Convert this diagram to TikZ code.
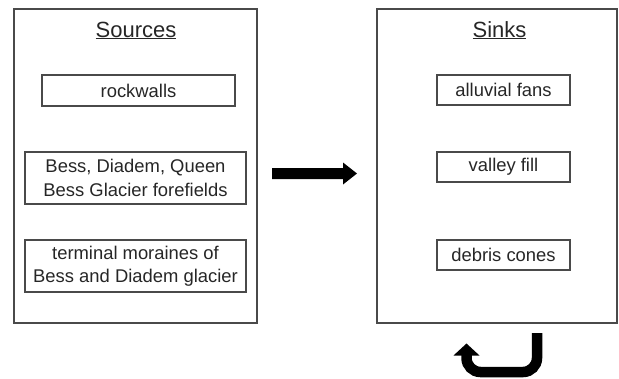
\documentclass[tikz,border=0pt]{standalone}
\usepackage{fontspec}
\setmainfont{Liberation Sans}
\definecolor{boxgray}{HTML}{4A4A4A}
\begin{document}
\begin{tikzpicture}[x=1pt,y=-1pt,
  outerbox/.style={draw=boxgray, line width=1.6pt, fill=none},
  itembox/.style={draw=boxgray, line width=1.3pt, inner sep=0pt, align=center,
    font=\fontsize{18.4}{23.5}\selectfont, text=black!85},
  titletext/.style={font=\fontsize{22}{26}\selectfont, anchor=base, inner sep=0pt, text=black!85},
  bigarrow/.style={fill=black}]
\useasboundingbox (0,0) rectangle (619,378);
% outer frames
\draw[outerbox] (14,9) rectangle (257,323);
\draw[outerbox] (377,9) rectangle (617,323);
% titles
\node[titletext] (srct) at (136,37) {\underline{Sources}};
\node[titletext] (snkt) at (499.5,37) {\underline{Sinks}};
% source items
\node[itembox, minimum width=193pt, minimum height=31pt] (rock) at (138.5,90.5) {rockwalls};
\node[itembox, minimum width=221pt, minimum height=52pt] (bess) at (135.5,178) {Bess, Diadem, Queen\\Bess Glacier forefields};
\node[itembox, minimum width=221pt, minimum height=52pt] (term) at (135.5,266) {terminal moraines of\\Bess and Diadem glacier};
% sink items
\node[itembox, minimum width=133pt, minimum height=30pt] (fans) at (503.5,90) {alluvial fans};
\node[itembox, minimum width=133pt, minimum height=30pt] (fill) at (503.5,167) {valley fill};
\node[itembox, minimum width=133pt, minimum height=30pt] (cone) at (503.5,255) {debris cones};
% main arrow
\fill[bigarrow] (272,168) -- (343,168) -- (343,162.5) -- (357,173.5) -- (343,184.5) -- (343,179) -- (272,179) -- cycle;
% U-turn arrow
\draw[line width=10.5pt, rounded corners=14pt] (537,333) -- (537,372) -- (466.5,372) -- (466.5,354);
\fill[bigarrow] (453.5,355.5) -- (466.5,343.5) -- (479.5,355.5) -- cycle;
\end{tikzpicture}
\end{document}
